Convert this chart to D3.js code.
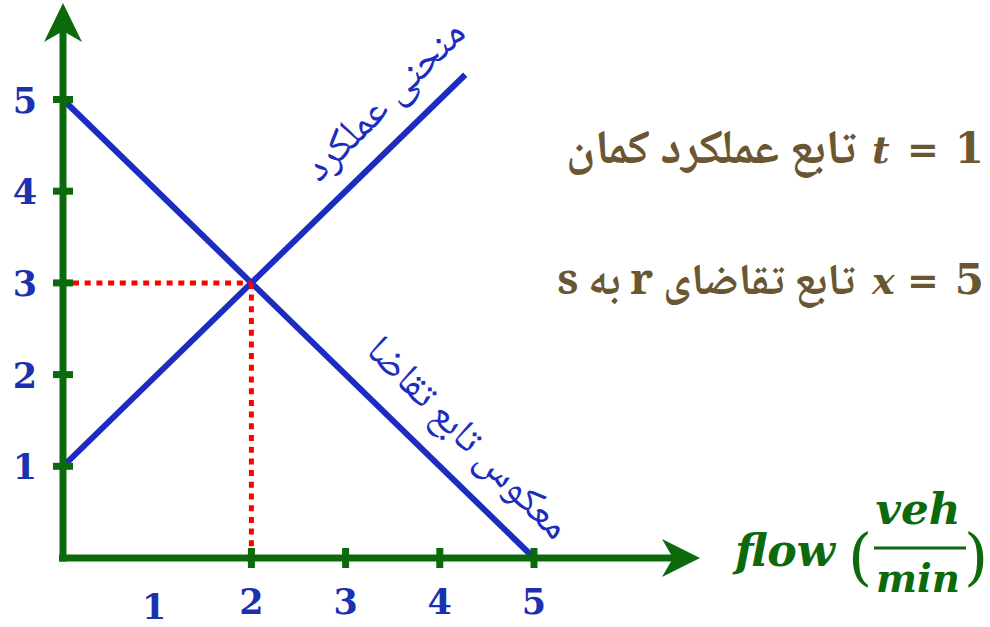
<!DOCTYPE html>
<html>
<head>
<meta charset="utf-8">
<script src="https://cdn.jsdelivr.net/npm/d3@7"></script>
<style>
  html, body { margin: 0; padding: 0; background: #ffffff; }
  svg { display: block; }
</style>
</head>
<body>
<svg id="chart" width="990" height="627"></svg>
<script>
// ---------- data ----------
const xTickValues = [2, 3, 4, 5];          // tick marks drawn on the x axis
const xTickLabels = [1, 2, 3, 4, 5];       // numbers printed under the x axis
const yTickValues = [1, 2, 3, 4, 5];
const yTickLabels = [1, 2, 3, 4, 5];
const performanceCurve = [[0, 1], [4.27, 5.27]];  // منحنی عملکرد
const inverseDemand = [[0, 5], [5, 0]];           // معکوس تابع تقاضا
const equilibrium = [2, 3];
const performanceLabel = "منحنی عملکرد";
const demandLabel = "معکوس تابع تقاضا";
const note1Fa = "تابع عملکرد کمان";
const note1Var = "t";
const note1Val = "1";
const note2Fa = "تابع تقاضای r به s";
const note2Var = "x";
const note2Val = "5";

// ---------- styles ----------
const GREEN = "#0c6a0c";
const BLUE = "#1c2cc0";
const LABEL_BLUE = "#1b31b0";
const RED = "#ff0000";
const BROWN = "#6b5632";
const FA_FONT = "'Noto Naskh Arabic','Noto Sans Arabic','DejaVu Sans',sans-serif";
const SERIF = "'DejaVu Serif','Liberation Serif',serif";

const svg = d3.select("#chart");

const x = d3.scaleLinear().domain([0, 5]).range([63, 534]);
const y = d3.scaleLinear().domain([0, 5]).range([558, 99.5]);

const line = d3.line().x(d => x(d[0])).y(d => y(d[1]));

// blue lines
svg.append("path").datum(performanceCurve).attr("d", line)
  .attr("fill", "none").attr("stroke", BLUE).attr("stroke-width", 6);
svg.append("path").datum(inverseDemand).attr("d", line)
  .attr("fill", "none").attr("stroke", BLUE).attr("stroke-width", 6);

// red dotted guide lines
svg.append("path").datum([[0, equilibrium[1]], equilibrium])
  .attr("d", d3.line().x(d => x(d[0]) + (d[0] === 0 ? 10 : 0)).y(d => y(d[1])))
  .attr("fill", "none").attr("stroke", RED).attr("stroke-width", 5)
  .attr("stroke-dasharray", "6,5.7");
svg.append("path").datum([equilibrium, [equilibrium[0], 0]])
  .attr("d", line)
  .attr("fill", "none").attr("stroke", RED).attr("stroke-width", 5)
  .attr("stroke-dasharray", "6,5.7");

// axes
const x0 = x(0), y0 = y(0);
svg.append("line").attr("x1", x0 - 4).attr("y1", y0).attr("x2", 680).attr("y2", y0)
  .attr("stroke", GREEN).attr("stroke-width", 7);
svg.append("line").attr("x1", x0).attr("y1", y0 + 3.5).attr("x2", x0).attr("y2", 30)
  .attr("stroke", GREEN).attr("stroke-width", 7);
// arrow heads
svg.append("path").attr("d", `M${x0},3 L${x0 + 19},42 L${x0},31 L${x0 - 19},42 Z`).attr("fill", GREEN);
svg.append("path").attr("d", `M700,${y0} L662,${y0 - 19} L673,${y0} L662,${y0 + 19} Z`).attr("fill", GREEN);

// ticks
svg.selectAll(".xtick").data(xTickValues).enter().append("line")
  .attr("x1", d => x(d)).attr("x2", d => x(d))
  .attr("y1", y0 - 10).attr("y2", y0 + 10)
  .attr("stroke", GREEN).attr("stroke-width", 7);
svg.selectAll(".ytick").data(yTickValues).enter().append("line")
  .attr("x1", x0 - 10).attr("x2", x0 + 10)
  .attr("y1", d => y(d)).attr("y2", d => y(d))
  .attr("stroke", GREEN).attr("stroke-width", 7);

// tick labels
svg.selectAll(".xlab").data(xTickLabels).enter().append("text")
  .attr("x", d => x(d) + (d === 1 ? -3 : 0))
  .attr("y", d => d === 1 ? 619 : 614)
  .attr("text-anchor", "middle")
  .attr("font-family", SERIF).attr("font-weight", "bold").attr("font-size", 35)
  .attr("fill", LABEL_BLUE).text(d => d);
svg.selectAll(".ylab").data(yTickLabels).enter().append("text")
  .attr("x", 25).attr("y", d => y(d) + 13)
  .attr("text-anchor", "middle")
  .attr("font-family", SERIF).attr("font-weight", "bold").attr("font-size", 35)
  .attr("fill", LABEL_BLUE).text(d => d);

// helper: scale font so text has a target width
function fit(sel, target) {
  const n = sel.node();
  const w = n.getComputedTextLength();
  const fs = parseFloat(sel.attr("font-size"));
  if (w > 0) sel.attr("font-size", fs * target / w);
  return sel;
}

// rotated labels along lines
const pl = svg.append("text")
  .attr("transform", "translate(385,101) rotate(-45)")
  .attr("text-anchor", "middle").attr("dominant-baseline", "middle")
  .attr("font-family", FA_FONT).attr("font-size", 30)
  .attr("fill", BLUE).text(performanceLabel);
fit(pl, 210);
const dl = svg.append("text")
  .attr("transform", "translate(467,439) rotate(45)")
  .attr("text-anchor", "middle").attr("dominant-baseline", "middle")
  .attr("font-family", FA_FONT).attr("font-size", 30)
  .attr("fill", BLUE).text(demandLabel);
fit(dl, 268);

// right-side notes
function note(baseline, fa, faRight, faWidth, v, val) {
  const t = svg.append("text")
    .attr("x", faRight).attr("y", baseline)
    .attr("direction", "rtl").attr("unicode-bidi", "embed")
    .attr("text-anchor", "start")
    .attr("font-family", FA_FONT).attr("font-weight", "bold").attr("font-size", 32)
    .attr("fill", BROWN).text(fa);
  fit(t, faWidth);
  svg.append("text").attr("x", 872).attr("y", baseline)
    .attr("font-family", SERIF).attr("font-style", "italic").attr("font-weight", "bold")
    .attr("font-size", 38).attr("fill", BROWN).text(v);
  svg.append("text").attr("x", 923).attr("y", baseline)
    .attr("text-anchor", "middle")
    .attr("font-family", SERIF).attr("font-weight", "bold")
    .attr("font-size", 38).attr("fill", BROWN).text("=");
  svg.append("text").attr("x", 984).attr("y", baseline)
    .attr("text-anchor", "end")
    .attr("font-family", SERIF).attr("font-weight", "bold")
    .attr("font-size", 42).attr("fill", BROWN).text(val);
}
note(163, note1Fa, 856, 290, note1Var, note1Val);
note(294, note2Fa, 855, 298, note2Var, note2Val);

// flow label
const flowG = svg.append("g").attr("fill", GREEN)
  .attr("font-family", SERIF).attr("font-style", "italic").attr("font-weight", "bold");
const fl = flowG.append("text").attr("x", 735).attr("y", 566).attr("font-size", 44).text("flow");
fit(fl, 100);
flowG.append("text").attr("x", 860).attr("y", 578).attr("text-anchor", "middle")
  .attr("font-style", "normal").attr("font-weight", "normal").attr("font-size", 62).text("(");
flowG.append("text").attr("x", 976).attr("y", 578).attr("text-anchor", "middle")
  .attr("font-style", "normal").attr("font-weight", "normal").attr("font-size", 62).text(")");
const veh = flowG.append("text").attr("x", 918).attr("y", 524).attr("text-anchor", "middle")
  .attr("font-size", 42).text("veh");
fit(veh, 85);
const mn = flowG.append("text").attr("x", 918).attr("y", 592).attr("text-anchor", "middle")
  .attr("font-size", 42).text("min");
fit(mn, 84);
svg.append("line").attr("x1", 874).attr("x2", 966).attr("y1", 548).attr("y2", 548)
  .attr("stroke", GREEN).attr("stroke-width", 3);
</script>
</body>
</html>
